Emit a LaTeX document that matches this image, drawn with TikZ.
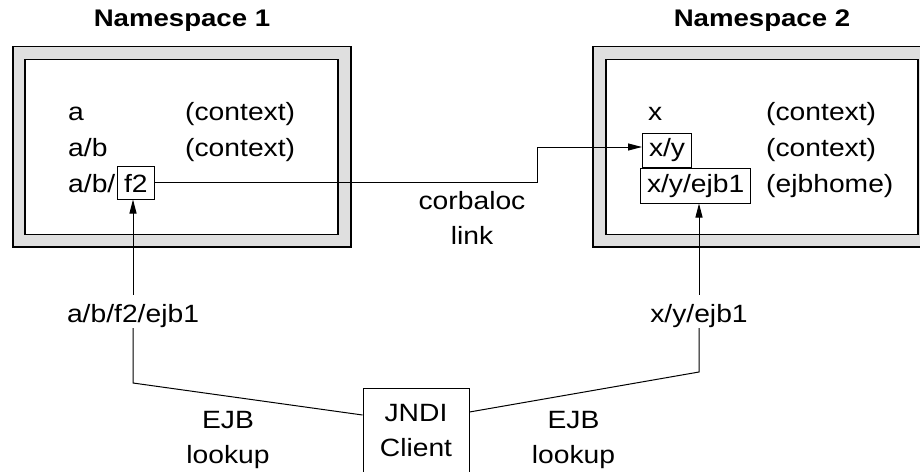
\documentclass[tikz,border=0pt]{standalone}
\usepackage{fontspec}
\setmainfont{Liberation Sans}[FakeStretch=1.13]
\newfontfamily\titlefont{Liberation Sans}[FakeStretch=1.15]
\usetikzlibrary{arrows.meta,calc}

\begin{document}
\begin{tikzpicture}[x=1pt,y=-1pt,
  every node/.style={inner sep=0pt, font=\fontsize{25}{35}\selectfont},
  title/.style={anchor=base, font={\titlefont\bfseries\fontsize{24}{28}\selectfont}},
  entry/.style={anchor=base west},
  tagbox/.style={draw, line width=1pt, anchor=base west, inner xsep=6.5pt, inner ysep=0pt},
  frameout/.style={draw=black, line width=1.3pt, fill=gray!25},
  framein/.style={draw=black, line width=1.2pt, fill=white},
  conn/.style={draw, line width=1pt},
  arr/.style={conn, -{Triangle[length=14pt,width=7pt]}},
  pathlabel/.style={anchor=base, text height=27pt, text depth=6pt},
  note/.style={anchor=base, align=center}
]
\useasboundingbox (0,0) rectangle (920,471);
\clip (0,0) rectangle (920,471);

% namespace frames
\draw[frameout] (13,46.5) rectangle (351,247);
\draw[framein] (25,59.5) rectangle (338,234.5);
\draw[frameout] (593,46.5) rectangle (931,247);
\draw[framein] (606,59.5) rectangle (918,234.5);

\node[title] (t1) at (182,27) {Namespace 1};
\node[title] (t2) at (762,27) {Namespace 2};

% namespace 1 bindings
\node[entry] (a)   at (68,120) {a};
\node[entry] (ab)  at (68,156) {a/b};
\node[entry] (abf) at (68,192) {a/b/};
\node[entry] (ca)  at (185,120) {(context)};
\node[entry] (cab) at (185,156) {(context)};
\node[tagbox, text height=26pt, text depth=7pt] (f2) at (117,192) {f2};

% namespace 2 bindings
\node[entry] (x)   at (648,120) {x};
\node[tagbox, text height=23pt, text depth=11pt] (xy) at (642,156) {x/y};
\node[tagbox, text height=24pt, text depth=11pt] (xye) at (640,192) {x/y/ejb1};
\node[entry] (cx)  at (766,120) {(context)};
\node[entry] (cxy) at (766,156) {(context)};
\node[entry] (hxy) at (766,192) {(ejbhome)};

% corbaloc link (base anchor sits on the last line)
\coordinate (turn) at (537,147);
\draw[arr] (f2.east) -| (turn) -- (turn -| xy.west);
\node[note] (corb) at (472,244) {corbaloc\\link};

% client and lookups
\node[draw, line width=1pt, minimum width=106pt, minimum height=85pt, align=center] (jndi) at (416,431) {JNDI\\Client};

\node[pathlabel] (lk1) at (133,322) {a/b/f2/ejb1};
\node[pathlabel] (lk2) at (699,322) {x/y/ejb1};
\coordinate (lc) at (133,383);
\coordinate (rc) at (699,372);

\draw[conn] ($(jndi.north west)+(0,27)$) -- (lc) -- (lk1.south);
\draw[arr] (lk1.north) -- (lk1.north |- f2.south);
\draw[conn] ($(jndi.north east)+(0,24)$) -- (rc) -- (lk2.south);
\draw[arr] (lk2.north) -- (lk2.north |- xye.south);

\node[note] (ejb1) at (228,463) {EJB\\lookup};
\node[note] (ejb2) at (573.5,463) {EJB\\lookup};
\end{tikzpicture}
\end{document}
